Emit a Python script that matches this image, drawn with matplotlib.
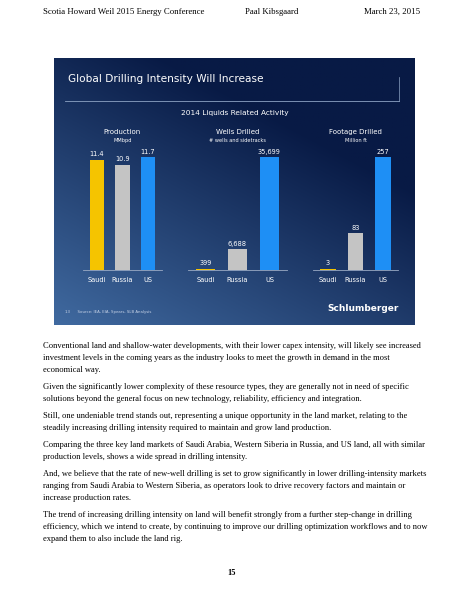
import numpy as np
import matplotlib
matplotlib.use("Agg")
import matplotlib.pyplot as plt

countries = ["Saudi", "Russia", "US"]
production = [11.4, 10.9, 11.7]
wells = [399, 6688, 35699]
footage = [3, 83, 257]
prod_labels = ["11.4", "10.9", "11.7"]
wells_labels = ["399", "6,688", "35,699"]
foot_labels = ["3", "83", "257"]
bar_colors = ["#f5c400", "#c4c4c4", "#1e8ff5"]

paragraphs = [
    ["Conventional land and shallow-water developments, with their lower capex intensity, will likely see increased",
     "investment levels in the coming years as the industry looks to meet the growth in demand in the most",
     "economical way."],
    ["Given the significantly lower complexity of these resource types, they are generally not in need of specific",
     "solutions beyond the general focus on new technology, reliability, efficiency and integration."],
    ["Still, one undeniable trend stands out, representing a unique opportunity in the land market, relating to the",
     "steadily increasing drilling intensity required to maintain and grow land production."],
    ["Comparing the three key land markets of Saudi Arabia, Western Siberia in Russia, and US land, all with similar",
     "production levels, shows a wide spread in drilling intensity."],
    ["And, we believe that the rate of new-well drilling is set to grow significantly in lower drilling-intensity markets",
     "ranging from Saudi Arabia to Western Siberia, as operators look to drive recovery factors and maintain or",
     "increase production rates."],
    ["The trend of increasing drilling intensity on land will benefit strongly from a further step-change in drilling",
     "efficiency, which we intend to create, by continuing to improve our drilling optimization workflows and to now",
     "expand them to also include the land rig."],
]

W, H = 464, 600
fig = plt.figure(figsize=(4.64, 6.0), dpi=100)
fig.patch.set_facecolor("white")
serif = "Liberation Serif"

def fx(x): return x / W
def fy(y): return 1 - y / H

# header
fig.text(fx(43), fy(12), "Scotia Howard Weil 2015 Energy Conference", fontsize=6.3, family=serif, va="center")
fig.text(fx(245), fy(12), "Paal Kibsgaard", fontsize=6.3, family=serif, va="center")
fig.text(fx(420), fy(12), "March 23, 2015", fontsize=6.3, family=serif, va="center", ha="right")

# slide background
sx0, sx1, sy0, sy1 = 54, 415, 58, 325
bg = fig.add_axes([fx(sx0), fy(sy1), fx(sx1 - sx0), (sy1 - sy0) / H])
yy, xx = np.mgrid[0:1:200j, 0:1:200j]
t = np.clip((1 - xx) * 0.5 + yy * 0.7 - 0.35, 0, 1)
c0 = np.array([0x08, 0x1a, 0x45]) / 255
c1 = np.array([0x4a, 0x78, 0xb0]) / 255
img = c0[None, None, :] * (1 - t[..., None]) + c1[None, None, :] * t[..., None]
bg.imshow(img, aspect="auto", extent=[0, 1, 0, 1], origin="upper")
bg.set_xlim(0, 1); bg.set_ylim(0, 1); bg.axis("off")
bg.text(0.04, 0.92, "Global Drilling Intensity Will Increase", color="white", fontsize=7.6, transform=bg.transAxes, va="center")
bg.plot([0.03, 0.955], [0.84, 0.84], color="#8da3c4", lw=0.6)
bg.plot([0.955, 0.955], [0.84, 0.93], color="#8da3c4", lw=0.5)
bg.text(0.5, 0.795, "2014 Liquids Related Activity", color="white", fontsize=5.3, ha="center", va="center")
bg.text(0.03, 0.05, "13      Source: IEA, EIA, Spears, SLB Analysis", color="#c8d4e8", fontsize=2.8, va="center")
bg.text(0.955, 0.06, "Schlumberger", color="white", fontsize=6.5, fontweight="bold", ha="right", va="center")

panels = [
    (83, 162, production, prod_labels, "Production", "MMbpd"),
    (188, 287, wells, wells_labels, "Wells Drilled", "# wells and sidetracks"),
    (313, 398, footage, foot_labels, "Footage Drilled", "Million ft"),
]
for x0, x1, vals, labs, title, sub in panels:
    ax = fig.add_axes([fx(x0), fy(270), fx(x1 - x0), 120 / H])
    ax.patch.set_alpha(0)
    xs = np.arange(3)
    ax.bar(xs, vals, width=0.58, color=bar_colors)
    m = max(vals)
    ax.set_ylim(0, m * 1.06)
    ax.set_xlim(-0.55, 2.55)
    for x, v, l in zip(xs, vals, labs):
        ax.text(x, v + m * 0.02, l, color="white", fontsize=4.8, ha="center", va="bottom")
    for s in ["top", "right", "left"]:
        ax.spines[s].set_visible(False)
    ax.spines["bottom"].set_color("#9aaac4")
    ax.spines["bottom"].set_linewidth(0.6)
    ax.set_yticks([])
    ax.set_xticks(xs)
    ax.set_xticklabels(countries, color="white", fontsize=4.8)
    ax.tick_params(axis="x", length=0, pad=5)
    cx = (x0 + x1) / 2
    fig.text(fx(cx), fy(132), title, color="white", fontsize=5.0, ha="center", va="center")
    fig.text(fx(cx), fy(140), sub, color="white", fontsize=3.6, ha="center", va="center")

# body text
starts = [346, 387, 416, 445, 474, 515]
for y0, para in zip(starts, paragraphs):
    for i, line in enumerate(para):
        fig.text(fx(43), fy(y0 + 12 * i), line, fontsize=6.1, family=serif, va="center")

fig.text(fx(232), fy(573), "15", fontsize=6, family=serif, ha="center", va="center", fontweight="bold")

fig.savefig("out.png", dpi=100)
